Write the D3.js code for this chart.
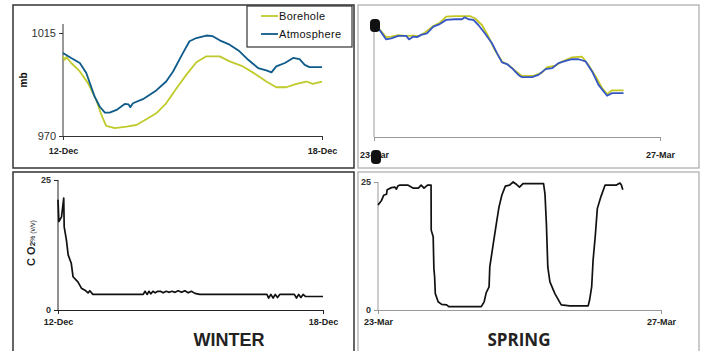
<!DOCTYPE html>
<html>
<head>
<meta charset="utf-8">
<script src="https://cdn.jsdelivr.net/npm/d3@7"></script>
<style>
  body { margin: 0; background: #fff; }
  svg { font-family: "Liberation Sans", Arial, sans-serif; }
</style>
</head>
<body>
<svg id="chart" width="705" height="351"></svg>
<script>
// winter pressure (days after 12-Dec, mb)
const winterAtmDay = [0, 0.19, 0.39, 0.54, 0.73, 0.85, 0.97, 1.08, 1.24, 1.43, 1.52, 1.56, 1.62, 1.85, 2.01, 2.16, 2.39, 2.55, 2.78, 2.93, 3.09, 3.32, 3.47, 3.63, 3.86, 4.09, 4.29, 4.52, 4.71, 4.83, 4.94, 5.14, 5.33, 5.48, 5.6, 5.71, 6.0];
const winterAtm = [1006.3, 1004.1, 1001.9, 997.5, 987.3, 982.9, 980.2, 980.2, 981.4, 984, 983.8, 982.6, 984.3, 986.1, 988, 989.9, 993.8, 998.2, 1006.3, 1011.4, 1012.8, 1013.9, 1013.6, 1011.8, 1009.9, 1007, 1003.3, 999.7, 998.7, 997.8, 1000.4, 1001.9, 1004.1, 1003.6, 1001.1, 1000.1, 1000.1];
const winterBoreDay = [0, 0.04, 0.08, 0.19, 0.39, 0.58, 0.77, 0.89, 1.0, 1.2, 1.47, 1.7, 1.93, 2.16, 2.39, 2.63, 2.86, 3.09, 3.32, 3.63, 3.86, 4.17, 4.48, 4.71, 4.94, 5.17, 5.41, 5.64, 5.79, 6.0];
const winterBore = [1004.8, 1003.3, 1004.5, 1001.9, 998.2, 993.1, 985.8, 979.2, 974.4, 973.4, 974.1, 974.8, 977.3, 979.9, 984.3, 990.9, 996.8, 1002.2, 1004.8, 1004.8, 1002.6, 1000.4, 996.8, 993.8, 991.3, 991.3, 992.8, 993.8, 992.8, 993.8];

// spring pressure (days after 23-Mar, mb)
const springAtmDay = [0, 0.08, 0.17, 0.24, 0.34, 0.45, 0.49, 0.55, 0.6, 0.66, 0.74, 0.83, 0.92, 1.01, 1.13, 1.23, 1.27, 1.32, 1.39, 1.46, 1.55, 1.65, 1.72, 1.79, 1.86, 1.93, 2.02, 2.07, 2.21, 2.3, 2.4, 2.49, 2.58, 2.68, 2.77, 2.86, 2.96, 3.05, 3.14, 3.26, 3.33, 3.49];
const springAtm = [1024.7, 1023.4, 1020.5, 1020.8, 1021.6, 1021.6, 1020.5, 1021.4, 1021.2, 1021.9, 1022.4, 1024.5, 1025.3, 1026.6, 1026.8, 1026.8, 1027.4, 1026.8, 1026.6, 1025, 1022.4, 1019.3, 1016.2, 1013.3, 1012.8, 1011.5, 1009.4, 1008.7, 1008.7, 1009.4, 1011.2, 1011.5, 1013.1, 1013.8, 1014.3, 1014.3, 1013.6, 1010.5, 1006.3, 1002.9, 1003.7, 1003.7];
const springBoreDay = [0, 0.08, 0.17, 0.24, 0.34, 0.45, 0.55, 0.62, 0.71, 0.83, 0.92, 1.01, 1.13, 1.34, 1.41, 1.51, 1.6, 1.69, 1.79, 1.88, 1.97, 2.07, 2.23, 2.35, 2.42, 2.53, 2.63, 2.77, 2.91, 3.0, 3.1, 3.19, 3.26, 3.33, 3.49];
const springBore = [1024.7, 1023.6, 1021.2, 1021.4, 1021.8, 1021.6, 1021.7, 1021.5, 1022.6, 1024.7, 1025.7, 1027.6, 1027.8, 1027.8, 1027.1, 1025, 1021.4, 1017.2, 1013.6, 1012.5, 1010.8, 1009.1, 1009.1, 1010.1, 1011.8, 1012.2, 1013.6, 1014.9, 1015.1, 1012.5, 1008.9, 1005.3, 1003.4, 1004.6, 1004.6];

// winter CO2 % (v/v)
const winterCo2Day = [0, 0.02, 0.08, 0.13, 0.14, 0.19, 0.23, 0.3, 0.34, 0.45, 0.53, 0.63, 0.68, 0.72, 0.79, 1.93, 1.97, 2.02, 2.06, 2.1, 2.15, 2.2, 2.26, 2.32, 2.38, 2.45, 2.52, 2.58, 2.65, 2.72, 2.8, 2.87, 2.95, 3.02, 3.1, 3.21, 4.73, 4.77, 4.82, 4.87, 4.92, 4.97, 5.02, 5.1, 5.35, 5.4, 5.45, 5.5, 5.55, 5.6, 6.0];
const winterCo2 = [21.2, 17, 17.9, 21.5, 16, 13.5, 10.6, 9, 6.4, 5.4, 4.2, 3.7, 3.3, 3.7, 3.0, 3.0, 3.6, 3.0, 3.6, 3.1, 3.6, 3.3, 3.6, 3.6, 3.3, 3.6, 3.4, 3.6, 3.4, 3.7, 3.4, 3.7, 3.3, 3.6, 3.2, 3.0, 3.0, 2.3, 3.0, 2.3, 3.0, 2.4, 3.0, 3.0, 3.0, 2.3, 3.0, 2.4, 3.0, 2.6, 2.6];

// spring CO2 % (v/v)
const springCo2Day = [0, 0.05, 0.08, 0.12, 0.13, 0.19, 0.24, 0.26, 0.28, 0.31, 0.42, 0.5, 0.57, 0.61, 0.65, 0.7, 0.75, 0.752, 0.78, 0.79, 0.8, 0.81, 0.85, 0.9, 0.97, 1.0, 1.46, 1.5, 1.53, 1.57, 1.58, 1.63, 1.68, 1.71, 1.75, 1.8, 1.86, 1.91, 1.96, 2.0, 2.05, 2.34, 2.36, 2.38, 2.4, 2.43, 2.5, 2.59, 2.71, 2.97, 2.99, 3.02, 3.04, 3.07, 3.1, 3.15, 3.21, 3.37, 3.42, 3.44, 3.46];
const springCo2 = [20.5, 21.4, 22.4, 22.6, 23.5, 23.9, 24.0, 23.6, 24.2, 24.4, 24.4, 23.8, 23.8, 24.4, 23.8, 24.4, 24.4, 15.6, 14.3, 8.1, 6.5, 3.2, 1.6, 1.1, 1.0, 0.65, 0.65, 1.6, 3.4, 4.5, 8.4, 13, 17.5, 20.1, 22.4, 24.2, 24.4, 25, 24.5, 24, 24.7, 24.7, 22.7, 16.9, 8.4, 5.5, 3.2, 1.0, 0.8, 0.8, 1.9, 4.5, 9.7, 14.3, 19.8, 22.1, 24.4, 24.4, 24.8, 24.4, 23.5];

const winterTicks = ["12-Dec", "18-Dec"];
const springTicks = ["23-Mar", "27-Mar"];
const seriesNames = ["Borehole", "Atmosphere"];

const svg = d3.select("#chart");

// panel frames
svg.append("rect").attr("x", 13).attr("y", 5).attr("width", 341).attr("height", 163)
  .attr("fill", "none").attr("stroke", "#333").attr("stroke-width", 1.5);
svg.append("rect").attr("x", 358).attr("y", 5).attr("width", 341).attr("height", 163)
  .attr("fill", "none").attr("stroke", "#aaa").attr("stroke-width", 1.2);
svg.append("rect").attr("x", 13).attr("y", 172).attr("width", 341).attr("height", 185)
  .attr("fill", "none").attr("stroke", "#333").attr("stroke-width", 1.5);
svg.append("rect").attr("x", 358).attr("y", 172).attr("width", 341).attr("height", 185)
  .attr("fill", "none").attr("stroke", "#aaa").attr("stroke-width", 1.2);

function drawAxes(x, y, xLabels, yTicks, opts) {
  const gx = svg.append("g")
    .attr("transform", `translate(0,${y.range()[0]})`)
    .call(d3.axisBottom(x).tickValues(x.domain()).tickSize(4).tickSizeOuter(0)
      .tickFormat((d, i) => xLabels[i]));
  gx.select(".domain").attr("stroke", opts.axisColor);
  gx.selectAll(".tick line").attr("stroke", opts.axisColor);
  gx.selectAll(".tick text").attr("dy", 0).attr("y", opts.xLabelY)
    .attr("font-size", 9).attr("font-weight", "bold").attr("fill", "#222")
    .attr("font-family", "Liberation Sans, Arial, sans-serif");

  const gy = svg.append("g")
    .attr("transform", `translate(${x.range()[0]},0)`)
    .call(d3.axisLeft(y).tickValues(yTicks).tickSize(4).tickSizeOuter(0)
      .tickFormat(d3.format("d")));
  gy.select(".domain").attr("stroke", opts.axisColor)
    .attr("d", `M0,${y.range()[0]}V${opts.yTop !== undefined ? opts.yTop : y.range()[1]}`);
  gy.selectAll(".tick line").attr("stroke", opts.axisColor);
  gy.selectAll(".tick text").attr("font-size", opts.yFontSize || 11)
    .attr("font-weight", opts.yBold ? "bold" : "normal").attr("fill", "#333")
    .attr("font-family", "Liberation Sans, Arial, sans-serif");
}

function drawLine(x, y, days, vals, color, width) {
  const pts = days.map((d, i) => [d, vals[i]]);
  svg.append("path").datum(pts)
    .attr("fill", "none").attr("stroke", color).attr("stroke-width", width)
    .attr("stroke-linejoin", "round")
    .attr("d", d3.line().x(d => x(d[0])).y(d => y(d[1])));
}

// top-left: winter pressure
const x1 = d3.scaleLinear().domain([0, 6]).range([63, 322]);
const y1 = d3.scaleLinear().domain([970, 1015]).range([136, 33]);
drawAxes(x1, y1, winterTicks, [970, 1015], { axisColor: "#333", xLabelY: 18, yTop: 24 });
drawLine(x1, y1, winterBoreDay, winterBore, "#bfcb2c", 1.8);
drawLine(x1, y1, winterAtmDay, winterAtm, "#0e5a8a", 1.8);
svg.append("text").attr("transform", "translate(27,80) rotate(-90)")
  .attr("text-anchor", "middle").attr("font-size", 10).attr("font-weight", "bold").text("mb");

// legend
svg.append("rect").attr("x", 247).attr("y", 6).attr("width", 105).attr("height", 41)
  .attr("fill", "#fff").attr("stroke", "#333").attr("stroke-width", 1.2);
const legendColors = ["#bfcb2c", "#0e5a8a"];
seriesNames.forEach((name, i) => {
  const ly = 16 + i * 18;
  svg.append("line").attr("x1", 261).attr("x2", 278).attr("y1", ly).attr("y2", ly)
    .attr("stroke", legendColors[i]).attr("stroke-width", 1.8);
  svg.append("text").attr("x", 279).attr("y", ly + 4).attr("font-size", 11)
    .attr("letter-spacing", 0.3).attr("fill", "#111").text(name);
});

// top-right: spring pressure
const x2 = d3.scaleLinear().domain([0, 4]).range([374, 660]);
const y2 = d3.scaleLinear().domain([990, 1025]).range([137, 25]);
drawAxes(x2, y2, springTicks, [], { axisColor: "#999", xLabelY: 21, yTop: 19 });
drawLine(x2, y2, springBoreDay, springBore, "#c2c722", 1.8);
drawLine(x2, y2, springAtmDay, springAtm, "#3556c4", 1.8);
// dark smudges left by the original's broken glyphs
svg.append("rect").attr("x", 370).attr("y", 19).attr("width", 10).attr("height", 13)
  .attr("rx", 4).attr("fill", "#111");
svg.append("rect").attr("x", 371).attr("y", 150).attr("width", 10).attr("height", 14)
  .attr("rx", 4).attr("fill", "#111");

// bottom-left: winter CO2
const x3 = d3.scaleLinear().domain([0, 6]).range([58, 323]);
const y3 = d3.scaleLinear().domain([0, 25]).range([310, 180]);
drawAxes(x3, y3, winterTicks, [0, 25], { axisColor: "#222", xLabelY: 15, yFontSize: 9, yBold: true });
drawLine(x3, y3, winterCo2Day, winterCo2, "#111", 1.7);
const co2Label = svg.append("text").attr("transform", "translate(35,243) rotate(-90)")
  .attr("text-anchor", "middle").attr("font-weight", "bold").attr("fill", "#222");
co2Label.append("tspan").attr("font-size", 11).text("C O");
co2Label.append("tspan").attr("font-size", 8).text("2");
co2Label.append("tspan").attr("font-size", 7).attr("font-weight", "normal").text("% (v/v)");
svg.append("text").attr("x", 229).attr("y", 346).attr("text-anchor", "middle")
  .attr("font-size", 18).attr("font-weight", "bold").attr("fill", "#222").text("WINTER");

// bottom-right: spring CO2
const x4 = d3.scaleLinear().domain([0, 4]).range([378, 661]);
const y4 = d3.scaleLinear().domain([0, 25]).range([310, 182]);
drawAxes(x4, y4, springTicks, [0, 25], { axisColor: "#999", xLabelY: 15, yFontSize: 9, yBold: true });
drawLine(x4, y4, springCo2Day, springCo2, "#111", 1.7);
svg.append("text").attr("x", 519).attr("y", 346).attr("text-anchor", "middle")
  .attr("font-size", 17).attr("font-weight", "bold").attr("fill", "#222")
  .attr("font-family", "Open Sans, sans-serif").text("SPRING");
</script>
</body>
</html>
